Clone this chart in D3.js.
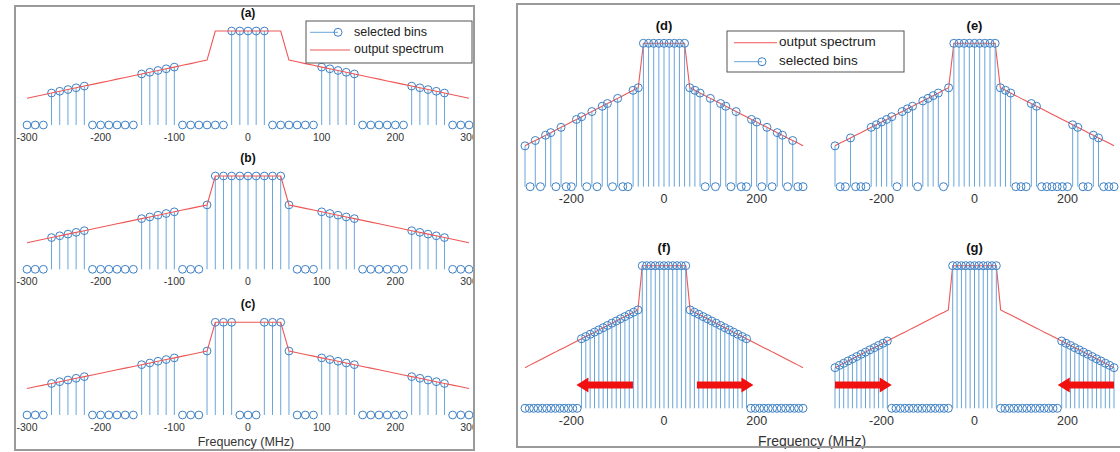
<!DOCTYPE html>
<html><head><meta charset="utf-8">
<script src="https://cdn.jsdelivr.net/npm/d3@7"></script>
<style>
body{margin:0;background:#fff;}
svg text{font-family:"Liberation Sans",Arial,sans-serif;}
</style></head><body>
<svg id="fig" width="1120" height="452"></svg>
<script>
// Bin centre frequencies (MHz), coarse grid used by panels a-e
const binsCoarse = [-300.0,-288.9,-277.8,-266.7,-255.6,-244.4,-233.3,-222.2,-211.1,-200.0,-188.9,-177.8,-166.7,-155.6,-144.4,-133.3,-122.2,-111.1,-100.0,-88.9,-77.8,-66.7,-55.6,-44.4,-33.3,-22.2,-11.1,0,11.1,22.2,33.3,44.4,55.6,66.7,77.8,88.9,100.0,111.1,122.2,133.3,144.4,155.6,166.7,177.8,188.9,200.0,211.1,222.2,233.3,244.4,255.6,266.7,277.8,288.9,300.0];
// Output spectrum level at each coarse bin (normalised)
const levelCoarse = [0.285,0.304,0.322,0.340,0.359,0.377,0.396,0.414,0.432,0.451,0.469,0.488,0.506,0.524,0.543,0.561,0.580,0.598,0.616,0.635,0.653,0.672,0.690,1,1,1,1,1,1,1,1,1,0.690,0.672,0.653,0.635,0.616,0.598,0.580,0.561,0.543,0.524,0.506,0.488,0.469,0.451,0.432,0.414,0.396,0.377,0.359,0.340,0.322,0.304,0.285];
// Fine grid used by panels f and g
const binsFine = [-300,-290.6,-281.3,-271.9,-262.5,-253.1,-243.8,-234.4,-225,-215.6,-206.3,-196.9,-187.5,-178.1,-168.8,-159.4,-150,-140.6,-131.3,-121.9,-112.5,-103.1,-93.8,-84.4,-75,-65.6,-56.3,-46.9,-37.5,-28.1,-18.8,-9.4,0,9.4,18.8,28.1,37.5,46.9,56.3,65.6,75,84.4,93.8,103.1,112.5,121.9,131.3,140.6,150,159.4,168.8,178.1,187.5,196.9,206.3,215.6,225,234.4,243.8,253.1,262.5,271.9,281.3,290.6,300];
const levelFine = [0.285,0.301,0.316,0.332,0.347,0.363,0.379,0.394,0.410,0.425,0.441,0.456,0.472,0.488,0.503,0.519,0.534,0.550,0.565,0.581,0.597,0.612,0.628,0.643,0.659,0.674,0.690,1,1,1,1,1,1,1,1,1,1,1,0.690,0.674,0.659,0.643,0.628,0.612,0.597,0.581,0.565,0.550,0.534,0.519,0.503,0.488,0.472,0.456,0.441,0.425,0.410,0.394,0.379,0.363,0.347,0.332,0.316,0.301,0.285];

// Selected-bin masks, one character per bin (1 = selected)
const maskA = "0001111100000011111000000111110000001111100000011111000";
const maskB = "0001111100000011111000111111111110001111100000011111000";
const maskC = "0001111100000011111000111100011110001111100000011111000";
const maskD = "1010110100110101101001111111111111101011010011010110100";
const maskE = "1001000111110111011110111111111111100011000000110011000";
const maskF = "00000000000001111111111111111111111111111111111111110000000000000";
const maskG = "11111111111110000000000000011111111111000000000000001111111111111";

const ticksLeft = [-300,-200,-100,0,100,200,300];
const ticksRight = [-200,0,200];
const titles = ["(a)","(b)","(c)","(d)","(e)","(f)","(g)"];
const legendLeft = ["selected bins","output spectrum"];
const legendRight = ["output spectrum","selected bins"];
const axisLabel = "Frequency (MHz)";
// Shift arrows: [from, to] in MHz
const arrowsF = [[-67,-189],[71,193]];
const arrowsG = [[-300,-178],[300,179]];
const arrowLevel = 0.163;

const BLUE_STEM = "#6aa5d8", BLUE_MARK = "#3d80c4", RED = "#ef5656";

const svg = d3.select("#fig");

// left figure content is clipped at its frame
svg.append("defs").append("clipPath").attr("id","leftClip")
  .append("rect").attr("x",16).attr("y",7).attr("width",457).attr("height",442);

const leftLayer = svg.append("g").attr("clip-path","url(#leftClip)");
const rightLayer = svg.append("g");

// figure frames
svg.append("rect").attr("x",15).attr("y",6).attr("width",459).attr("height",444)
  .attr("fill","none").attr("stroke","#9a9a9a").attr("stroke-width",2);
svg.append("rect").attr("x",517).attr("y",4).attr("width",620).attr("height",443)
  .attr("fill","none").attr("stroke","#9a9a9a").attr("stroke-width",2);

const panels = [
  {layer:leftLayer, title:titles[0], bins:binsCoarse, level:levelCoarse, mask:maskA, xr:[27,469], base:125, top:31, ticks:ticksLeft, fs:10.5, tfs:12, lineFirst:false, r:3.9},
  {layer:leftLayer, title:titles[1], bins:binsCoarse, level:levelCoarse, mask:maskB, xr:[27,469], base:269.3, top:176, ticks:ticksLeft, fs:10.5, tfs:12, lineFirst:false, r:3.9},
  {layer:leftLayer, title:titles[2], bins:binsCoarse, level:levelCoarse, mask:maskC, xr:[27,469], base:415, top:322.3, ticks:ticksLeft, fs:10.5, tfs:12, lineFirst:false, r:3.9},
  {layer:rightLayer, title:titles[3], bins:binsCoarse, level:levelCoarse, mask:maskD, xr:[525,803], base:186.7, top:43.3, ticks:ticksRight, fs:12.5, tfs:13, lineFirst:true, r:4},
  {layer:rightLayer, title:titles[4], bins:binsCoarse, level:levelCoarse, mask:maskE, xr:[835,1114], base:186.7, top:43.3, ticks:ticksRight, fs:12.5, tfs:13, lineFirst:true, r:4},
  {layer:rightLayer, title:titles[5], bins:binsFine, level:levelFine, mask:maskF, xr:[525,803], base:408.3, top:265.7, ticks:ticksRight, fs:12.5, tfs:13, lineFirst:true, r:4, arrows:arrowsF},
  {layer:rightLayer, title:titles[6], bins:binsFine, level:levelFine, mask:maskG, xr:[835,1114], base:408.3, top:265.7, ticks:ticksRight, fs:12.5, tfs:13, lineFirst:true, r:4, arrows:arrowsG}
];

panels.forEach(p => {
  const x = d3.scaleLinear().domain([-300,300]).range(p.xr);
  const y = d3.scaleLinear().domain([0,1]).range([p.base,p.top]);
  const g = p.layer.append("g");
  const pts = p.bins.map((f,i) => ({f, v:p.level[i], sel:p.mask[i]==="1"}));

  const drawLine = () => g.append("path")
    .attr("d", d3.line().x(d=>x(d.f)).y(d=>y(d.v))(pts))
    .attr("fill","none").attr("stroke",RED).attr("stroke-width",1.1);

  const drawStems = () => {
    g.selectAll(null).data(pts.filter(d=>d.sel)).join("line")
      .attr("x1",d=>x(d.f)).attr("x2",d=>x(d.f))
      .attr("y1",y(0)).attr("y2",d=>y(d.v))
      .attr("stroke",BLUE_STEM).attr("stroke-width",1);
    g.selectAll(null).data(pts).join("circle")
      .attr("cx",d=>x(d.f)).attr("cy",d=>d.sel?y(d.v):y(0)).attr("r",p.r)
      .attr("fill","none").attr("stroke",BLUE_MARK).attr("stroke-width",1);
  };

  if (p.lineFirst) { drawLine(); drawStems(); } else { drawStems(); drawLine(); }

  // tick labels
  g.selectAll(null).data(p.ticks).join("text")
    .attr("x",d=>x(d)).attr("y",p.base+13).attr("text-anchor","middle")
    .attr("dominant-baseline","middle").attr("font-size",p.fs).attr("fill","#333")
    .text(d=>d);

  // panel title
  g.append("text").attr("x",x(0)).attr("y",p.top-17).attr("text-anchor","middle")
    .attr("dominant-baseline","middle").attr("font-size",p.tfs).attr("font-weight","bold")
    .attr("fill","#111").text(p.title);

  // shift arrows
  if (p.arrows) {
    p.arrows.forEach(([a,b]) => {
      const x0 = x(a), x1 = x(b), yy = y(arrowLevel);
      const dir = Math.sign(x1-x0), head = 12, sh = 3.5, hh = 7.5;
      const xh = x1 - dir*head;
      const poly = [[x0,yy-sh],[xh,yy-sh],[xh,yy-hh],[x1,yy],[xh,yy+hh],[xh,yy+sh],[x0,yy+sh]];
      g.append("polygon").attr("points",poly.map(q=>q.join(",")).join(" "))
        .attr("fill","#f01010");
    });
  }
});

// axis labels
leftLayer.append("text").attr("x",246).attr("y",443).attr("text-anchor","middle")
  .attr("dominant-baseline","middle").attr("font-size",12.5).attr("fill","#333").text(axisLabel);
rightLayer.append("text").attr("x",812).attr("y",442).attr("text-anchor","middle")
  .attr("dominant-baseline","middle").attr("font-size",14).attr("fill","#333").text(axisLabel);

// legends
function legend(bx,by,bw,bh,items,fs){
  const g = svg.append("g");
  g.append("rect").attr("x",bx).attr("y",by).attr("width",bw).attr("height",bh)
    .attr("fill","#fff").attr("stroke","#555").attr("stroke-width",1);
  items.forEach(it => {
    if (it.kind==="bins") {
      g.append("line").attr("x1",it.x0).attr("x2",it.cx).attr("y1",it.y).attr("y2",it.y)
        .attr("stroke",BLUE_STEM).attr("stroke-width",1);
      g.append("circle").attr("cx",it.cx).attr("cy",it.y).attr("r",4)
        .attr("fill","none").attr("stroke",BLUE_MARK);
    } else {
      g.append("line").attr("x1",it.x0).attr("x2",it.x1).attr("y1",it.y).attr("y2",it.y)
        .attr("stroke",RED).attr("stroke-width",1.1);
    }
    g.append("text").attr("x",it.tx).attr("y",it.y).attr("dominant-baseline","middle")
      .attr("font-size",fs).attr("fill","#222").text(it.label);
  });
}
legend(306,21,166,42,[
  {kind:"bins",label:legendLeft[0],x0:310,cx:338,y:32.3,tx:354},
  {kind:"line",label:legendLeft[1],x0:310,x1:350,y:50,tx:354}],12.5);
legend(727,31,177,41,[
  {kind:"line",label:legendRight[0],x0:734,x1:777,y:42.7,tx:779},
  {kind:"bins",label:legendRight[1],x0:734,cx:762,y:61.7,tx:779}],13.5);
</script>
</body></html>
